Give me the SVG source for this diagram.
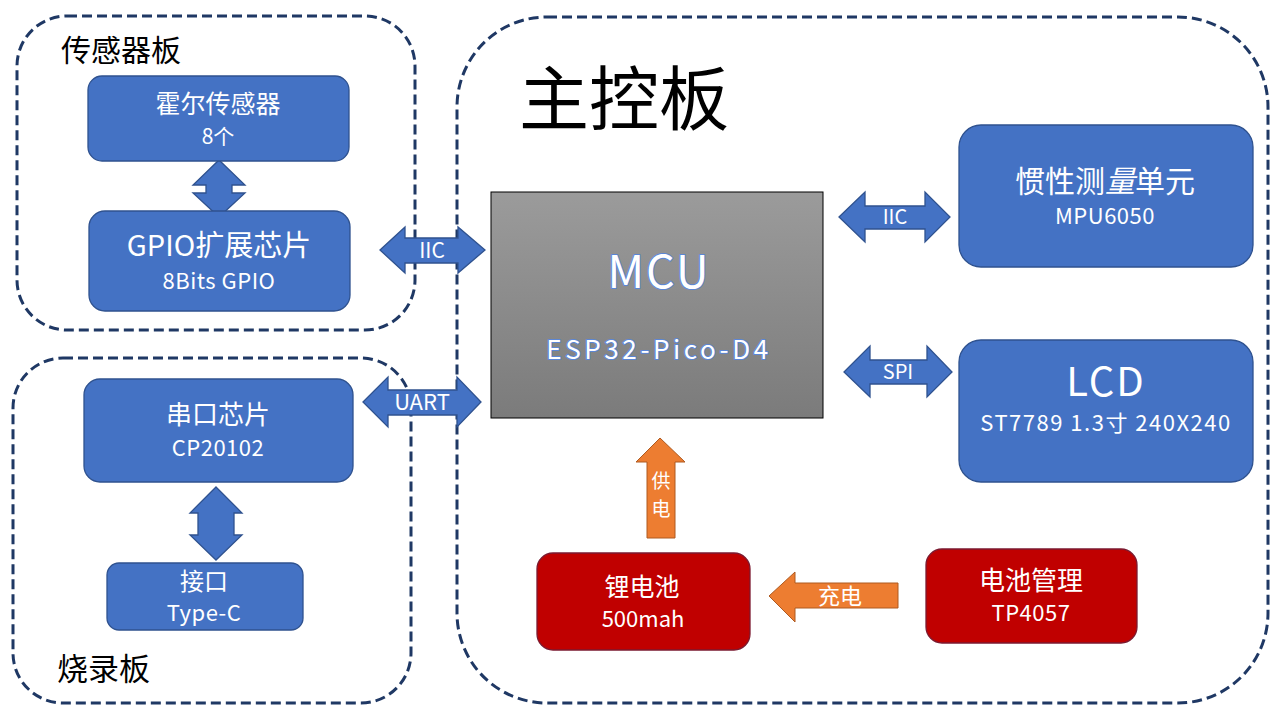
<svg xmlns="http://www.w3.org/2000/svg" width="1280" height="720" viewBox="0 0 1280 720">
<defs>
<linearGradient id="mcuGrad" x1="0" y1="0" x2="0" y2="1">
<stop offset="0" stop-color="#9b9b9b"/>
<stop offset="1" stop-color="#7b7b7b"/>
</linearGradient>
<style>
text{font-family:"Noto Sans CJK SC","Noto Sans",sans-serif;text-anchor:middle}
.board{fill:none;stroke:#1f3864;stroke-width:3;stroke-dasharray:10 5}
.blue{fill:#4472c4;stroke:#2f528f;stroke-width:1.3}
.red{fill:#c00000;stroke:#7b1a30;stroke-width:1.3}
.orange{fill:#ed7d31;stroke:#ae5a21;stroke-width:1}
.w{fill:#ffffff}
.title{fill:#000000;text-anchor:start}
.mcu{fill:#ffffff;stroke:#5b86d6;stroke-width:2;paint-order:stroke;stroke-linejoin:round}
</style>
</defs>
<rect width="1280" height="720" fill="#ffffff"/>

<g id="sensor-board">
<rect class="board" x="17" y="16" width="398" height="314" rx="50"/>
<text class="title" x="61" y="61" font-size="30">传感器板</text>
</g>
<g id="burn-board">
<rect class="board" x="13" y="358" width="398" height="345" rx="50"/>
<text class="title" x="57" y="680" font-size="31">烧录板</text>
</g>
<g id="main-board">
<rect class="board" x="457" y="17" width="811" height="686" rx="90"/>
<text class="title" x="519" y="125" font-size="70">主控板</text>
</g>

<g id="connectors">
<path class="blue" d="M219,160 L245,185 L232,185 L232,193 L245,193 L219,217 L193,193 L206,193 L206,185 L193,185 Z"/>
<path class="blue" d="M216,487 L242,513 L234,513 L234,535 L242,535 L216,560 L190,535 L198,535 L198,513 L190,513 Z"/>
<g id="conn-iic-gpio">
<path class="blue" d="M380,250 L405,227 L405,238 L458,238 L458,227 L485,250 L458,273 L458,263 L405,263 L405,273 Z"/>
<text class="w" x="432" y="258" font-size="21">IIC</text>
</g>
<g id="conn-uart">
<path class="blue" d="M363,402 L388,377 L388,390 L457,390 L457,377 L481,402 L457,427 L457,415 L388,415 L388,427 Z"/>
<text class="w" x="422" y="410" font-size="22">UART</text>
</g>
<g id="conn-iic-imu">
<path class="blue" d="M839,217 L865,192 L865,206 L925,206 L925,192 L950,217 L925,242 L925,229 L865,229 L865,242 Z"/>
<text class="w" x="895" y="224" font-size="20">IIC</text>
</g>
<g id="conn-spi">
<path class="blue" d="M844,372 L870,346 L870,360 L927,360 L927,346 L952,372 L927,397 L927,384 L870,384 L870,397 Z"/>
<text class="w" x="898" y="379" font-size="20">SPI</text>
</g>
<g id="conn-power">
<path class="orange" d="M660,438 L685,462 L675,462 L675,538 L647,538 L647,462 L636,462 Z"/>
<text class="w" x="661" y="488" font-size="19">供</text>
<text class="w" x="661" y="516" font-size="19">电</text>
</g>
<g id="conn-charge">
<path class="orange" d="M769,596 L795,572 L795,583 L898,583 L898,608 L795,608 L795,622 Z"/>
<text class="w" x="840" y="604" font-size="22">充电</text>
</g>
</g>

<g id="hall">
<rect class="blue" x="88" y="76" width="261" height="85" rx="14"/>
<text class="w" x="218" y="113" font-size="25">霍尔传感器</text>
<text class="w" x="218" y="144" font-size="21">8个</text>
</g>
<g id="gpio">
<rect class="blue" x="89" y="211" width="261" height="100" rx="16"/>
<text class="w" x="219" y="256" font-size="29">GPIO扩展芯片</text>
<text class="w" x="219" y="289" font-size="22" letter-spacing="0.5">8Bits GPIO</text>
</g>
<g id="uart-chip">
<rect class="blue" x="84" y="379" width="269" height="103" rx="16"/>
<text class="w" x="218" y="424" font-size="26">串口芯片</text>
<text class="w" x="218" y="456" font-size="22" letter-spacing="0.5">CP20102</text>
</g>
<g id="typec">
<rect class="blue" x="107" y="563" width="196" height="67" rx="12"/>
<text class="w" x="204" y="590" font-size="24">接口</text>
<text class="w" x="204" y="621" font-size="22" letter-spacing="0.5">Type-C</text>
</g>
<g id="mcu">
<rect x="491" y="192" width="332" height="226" fill="url(#mcuGrad)" stroke="#000000" stroke-width="1"/>
<text class="mcu" x="659" y="288" font-size="45" letter-spacing="2">MCU</text>
<text class="mcu" x="659" y="359" font-size="26" letter-spacing="3.6">ESP32-Pico-D4</text>
</g>
<g id="imu">
<rect class="blue" x="959" y="125" width="294" height="142" rx="22"/>
<text class="w" x="1105" y="192" font-size="30">惯性测<tspan font-style="italic">量</tspan>单元</text>
<text class="w" x="1105" y="224" font-size="22" letter-spacing="0.5">MPU6050</text>
</g>
<g id="lcd">
<rect class="blue" x="959" y="340" width="294" height="142" rx="22"/>
<text class="w" x="1106" y="396" font-size="40" letter-spacing="2">LCD</text>
<text class="w" x="1106" y="431" font-size="22" letter-spacing="1.5">ST7789 1.3寸 240X240</text>
</g>
<g id="battery">
<rect class="red" x="537" y="553" width="213" height="97" rx="16"/>
<text class="w" x="642" y="596" font-size="25">锂电池</text>
<text class="w" x="643" y="627" font-size="22">500mah</text>
</g>
<g id="bms">
<rect class="red" x="926" y="549" width="211" height="94" rx="16"/>
<text class="w" x="1031" y="590" font-size="26">电池管理</text>
<text class="w" x="1031" y="621" font-size="22" letter-spacing="0.5">TP4057</text>
</g>
</svg>
